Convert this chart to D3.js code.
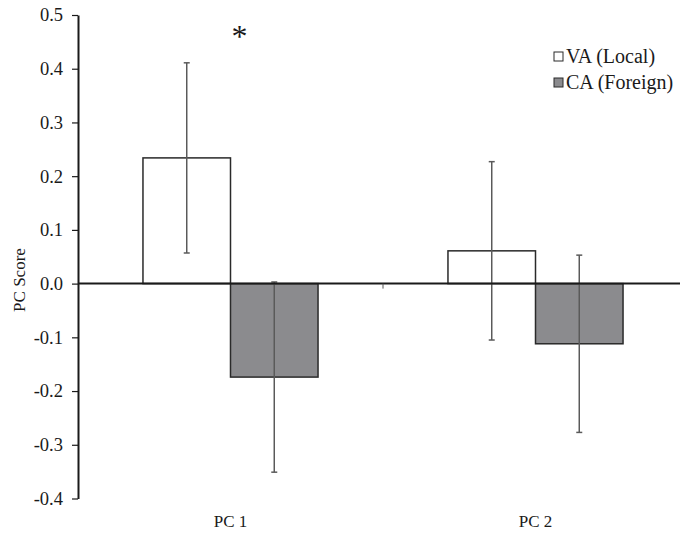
<style>
  body { margin: 0; }
</style>
<svg id="container" width="680" height="533"></svg>

<script src="https://d3js.org/d3.v7.min.js"></script>
<script>
  // data
  const categories = ['PC 1', 'PC 2']
  const series = ['VA (Local)', 'CA (Foreign)']
  const vaScores = [0.234, 0.061]
  const vaErrors = [0.177, 0.166]
  const caScores = [-0.174, -0.112]
  const caErrors = [0.177, 0.165]
  const yTicks = [0.5, 0.4, 0.3, 0.2, 0.1, 0.0, -0.1, -0.2, -0.3, -0.4]
  const significant = [true, false]

  const fills = ['#ffffff', '#8b8b8e']
  const font = '"Liberation Serif", "Times New Roman", serif'

  const rows = []
  categories.forEach((c, i) => {
    rows.push({ cat: c, s: series[0], v: vaScores[i], e: vaErrors[i], k: 0 })
    rows.push({ cat: c, s: series[1], v: caScores[i], e: caErrors[i], k: 1 })
  })

  const svg = d3.select('#container')
    .style('display', 'block')
    .style('font-family', font)
    .style('background', '#fff')

  const yScale = d3.scaleLinear()
    .domain([-0.4, 0.5])
    .range([498.5, 15])

  const xScale = d3.scaleBand()
    .domain(categories)
    .range([78, 688])
    .paddingInner(0.426)
    .paddingOuter(0.213)

  const xSub = d3.scaleBand()
    .domain(series)
    .range([0, xScale.bandwidth()])

  // bars
  svg.selectAll('rect.bar')
    .data(rows)
    .enter()
    .append('rect')
    .attr('class', 'bar')
    .attr('x', d => xScale(d.cat) + xSub(d.s))
    .attr('width', xSub.bandwidth())
    .attr('y', d => yScale(Math.max(0, d.v)))
    .attr('height', d => Math.abs(yScale(d.v) - yScale(0)))
    .attr('fill', d => fills[d.k])
    .attr('stroke', '#2a2a2a')
    .attr('stroke-width', 1.5)

  // error bars
  const err = svg.append('g')
    .attr('stroke', '#5a5a5a')
    .attr('stroke-width', 1.5)
  const cx = d => xScale(d.cat) + xSub(d.s) + xSub.bandwidth() / 2
  err.selectAll('line.v')
    .data(rows)
    .enter()
    .append('line')
    .attr('x1', cx).attr('x2', cx)
    .attr('y1', d => yScale(d.v + d.e))
    .attr('y2', d => yScale(d.v - d.e))
  err.selectAll('line.top')
    .data(rows)
    .enter()
    .append('line')
    .attr('x1', d => cx(d) - 3).attr('x2', d => cx(d) + 3)
    .attr('y1', d => yScale(d.v + d.e))
    .attr('y2', d => yScale(d.v + d.e))
  err.selectAll('line.bot')
    .data(rows)
    .enter()
    .append('line')
    .attr('x1', d => cx(d) - 3).attr('x2', d => cx(d) + 3)
    .attr('y1', d => yScale(d.v - d.e))
    .attr('y2', d => yScale(d.v - d.e))

  // y axis
  const yAxis = d3.axisLeft(yScale)
    .tickValues(yTicks)
    .tickFormat(d3.format('.1f'))
    .tickSize(6)
    .tickSizeOuter(0)
  const ya = svg.append('g')
    .attr('transform', 'translate(78,0)')
    .call(yAxis)
  ya.attr('font-family', null).attr('font-size', null)
  ya.select('.domain').attr('stroke', '#1a1a1a').attr('stroke-width', 2)
  ya.selectAll('.tick line').attr('stroke', '#1a1a1a').attr('stroke-width', 1.2)
  ya.selectAll('.tick text')
    .attr('x', -15)
    .attr('fill', '#1a1a1a')
    .style('font-family', font)
    .style('font-size', '18.5px')
    .text(d => d < 0 ? '-' + d3.format('.1f')(-d) : d3.format('.1f')(d))

  // zero line with category divider tick
  svg.append('line')
    .attr('x1', 78).attr('x2', 680)
    .attr('y1', yScale(0)).attr('y2', yScale(0))
    .attr('stroke', '#1a1a1a')
    .attr('stroke-width', 2)
  svg.append('line')
    .attr('x1', xScale.range()[0] + xScale.step()).attr('x2', xScale.range()[0] + xScale.step())
    .attr('y1', yScale(0)).attr('y2', yScale(0) + 5)
    .attr('stroke', '#555')
    .attr('stroke-width', 1)

  // category labels
  svg.selectAll('text.cat')
    .data(categories)
    .enter()
    .append('text')
    .attr('x', d => xScale(d) + xScale.bandwidth() / 2)
    .attr('y', 527)
    .attr('text-anchor', 'middle')
    .attr('fill', '#1a1a1a')
    .style('font-size', '17px')
    .text(d => d)

  // significance marker
  svg.selectAll('text.star')
    .data(categories.filter((c, i) => significant[i]))
    .enter()
    .append('text')
    .attr('x', d => xScale(d) + xScale.bandwidth() / 2 + 9)
    .attr('y', 47)
    .attr('text-anchor', 'middle')
    .attr('fill', '#1a1a1a')
    .style('font-size', '32px')
    .text('*')

  // y title
  svg.append('text')
    .attr('transform', 'translate(25,280) rotate(-90)')
    .attr('text-anchor', 'middle')
    .attr('fill', '#1a1a1a')
    .style('font-size', '17px')
    .text('PC Score')

  // legend
  const legend = svg.append('g')
    .attr('transform', 'translate(554,52)')
  series.forEach((s, i) => {
    const g = legend.append('g').attr('transform', `translate(0,${i * 26})`)
    g.append('rect')
      .attr('width', 9).attr('height', 9)
      .attr('fill', fills[i])
      .attr('stroke', '#2a2a2a')
      .attr('stroke-width', 1)
    g.append('text')
      .attr('x', 12)
      .attr('y', 10.5)
      .attr('fill', '#1a1a1a')
      .style('font-size', '20px')
      .text(s)
  })
</script>
